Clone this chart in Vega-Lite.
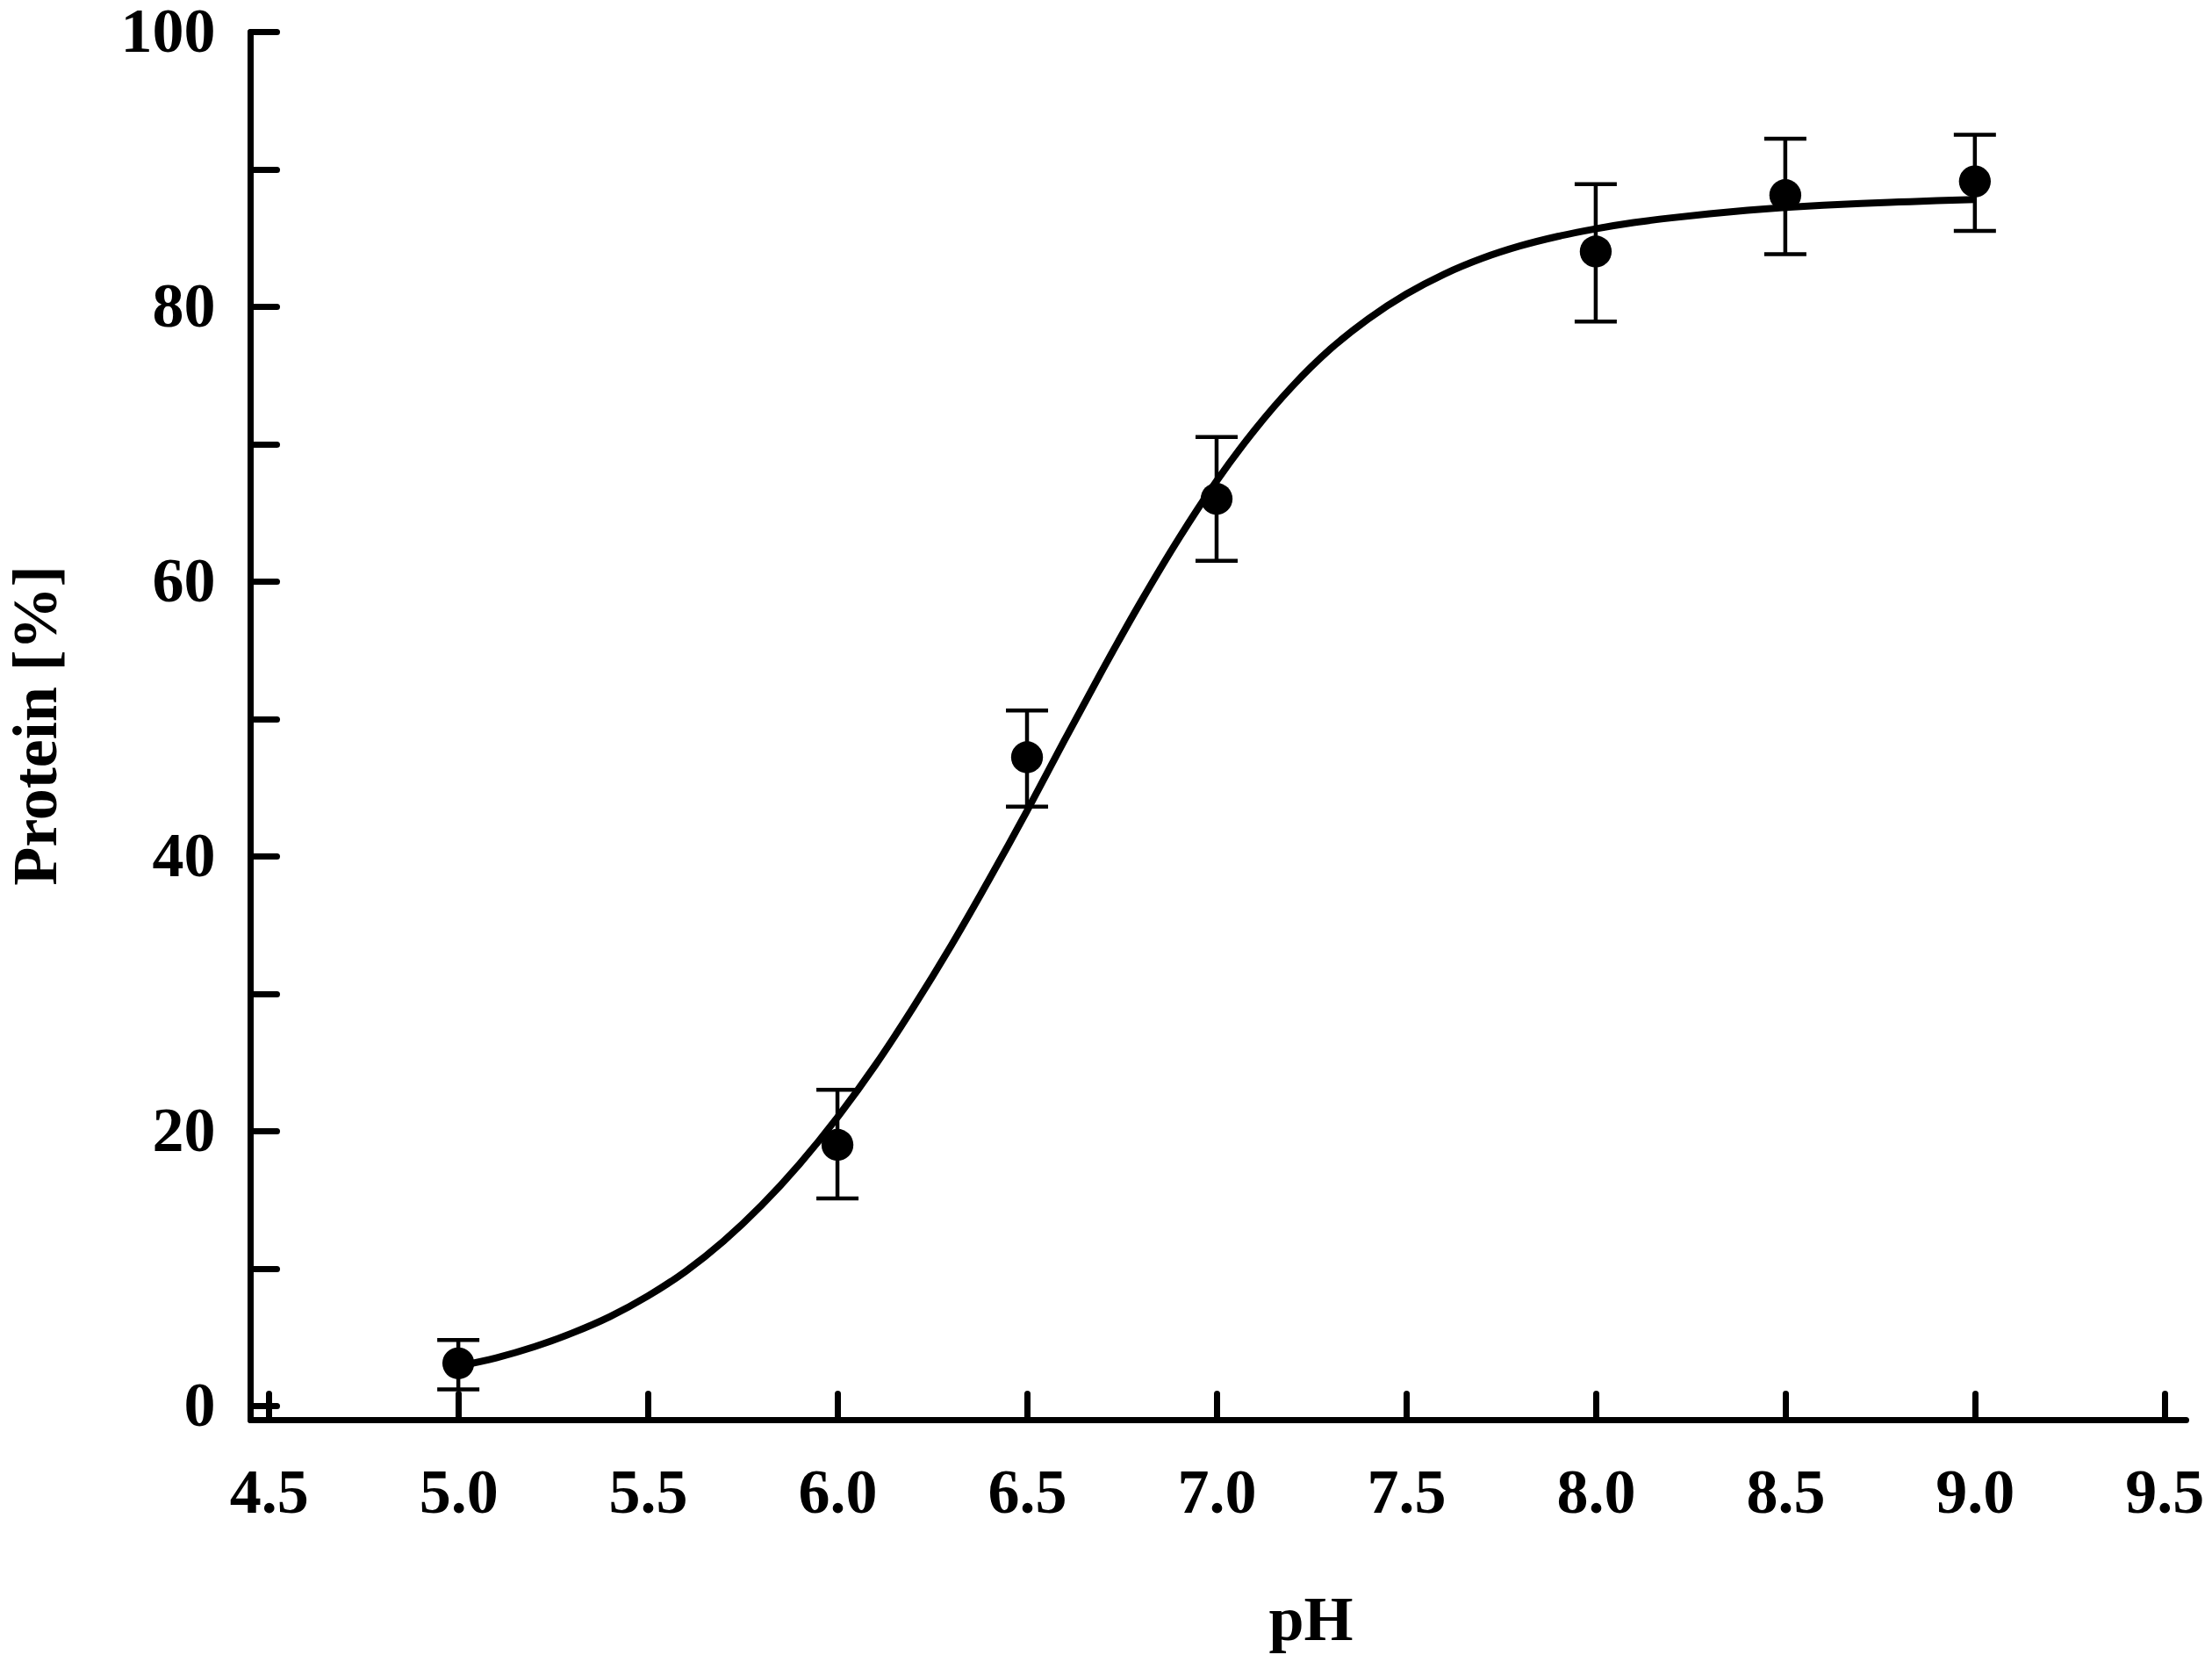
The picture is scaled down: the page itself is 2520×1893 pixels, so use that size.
{
  "$schema": "https://vega.github.io/schema/vega-lite/v6.json",
  "autosize": {"type": "none"},
  "padding": {"left": 285, "top": 36, "right": 30, "bottom": 276},
  "width": 2205,
  "height": 1581,
  "background": "white",
  "datasets": {
    "points": [
      {"pH": 5.0, "protein": 3.1, "lo": 1.2, "hi": 4.8},
      {"pH": 6.0, "protein": 19.0, "lo": 15.1, "hi": 23.0},
      {"pH": 6.5, "protein": 47.2, "lo": 43.6, "hi": 50.6},
      {"pH": 7.0, "protein": 66.0, "lo": 61.5, "hi": 70.5},
      {"pH": 8.0, "protein": 84.0, "lo": 78.9, "hi": 88.9},
      {"pH": 8.5, "protein": 88.1, "lo": 83.8, "hi": 92.2},
      {"pH": 9.0, "protein": 89.1, "lo": 85.5, "hi": 92.5}
    ],
    "fit": [
      {"pH": 5.0, "protein": 2.9}, {"pH": 5.1, "protein": 3.5}, {"pH": 5.2, "protein": 4.3},
      {"pH": 5.3, "protein": 5.3}, {"pH": 5.4, "protein": 6.5}, {"pH": 5.5, "protein": 8.0},
      {"pH": 5.6, "protein": 9.8}, {"pH": 5.7, "protein": 12.0}, {"pH": 5.8, "protein": 14.6},
      {"pH": 5.9, "protein": 17.6}, {"pH": 6.0, "protein": 21.0}, {"pH": 6.1, "protein": 24.8},
      {"pH": 6.2, "protein": 29.0}, {"pH": 6.3, "protein": 33.5}, {"pH": 6.4, "protein": 38.3},
      {"pH": 6.5, "protein": 43.3}, {"pH": 6.6, "protein": 48.5}, {"pH": 6.7, "protein": 53.6},
      {"pH": 6.8, "protein": 58.5}, {"pH": 6.9, "protein": 63.1}, {"pH": 7.0, "protein": 67.3},
      {"pH": 7.1, "protein": 71.0}, {"pH": 7.2, "protein": 74.2}, {"pH": 7.3, "protein": 76.9},
      {"pH": 7.4, "protein": 79.1}, {"pH": 7.5, "protein": 80.9}, {"pH": 7.6, "protein": 82.35},
      {"pH": 7.7, "protein": 83.5}, {"pH": 7.8, "protein": 84.4}, {"pH": 7.9, "protein": 85.1},
      {"pH": 8.0, "protein": 85.65}, {"pH": 8.1, "protein": 86.1}, {"pH": 8.2, "protein": 86.45},
      {"pH": 8.3, "protein": 86.75}, {"pH": 8.4, "protein": 87.0}, {"pH": 8.5, "protein": 87.2},
      {"pH": 8.6, "protein": 87.37}, {"pH": 8.7, "protein": 87.5}, {"pH": 8.8, "protein": 87.6},
      {"pH": 8.9, "protein": 87.7}, {"pH": 9.0, "protein": 87.78}
    ]
  },
  "encoding": {
    "x": {
      "field": "pH",
      "type": "quantitative",
      "scale": {"domain": [4.451, 9.556], "nice": false, "zero": false},
      "axis": {
        "title": "pH",
        "values": [4.5, 5.0, 5.5, 6.0, 6.5, 7.0, 7.5, 8.0, 8.5, 9.0, 9.5],
        "format": ".1f",
        "tickSize": -30,
        "labelPadding": 78,
        "titleX": 1208,
        "titleY": 250,
        "titleBaseline": "alphabetic",
        "titleAlign": "center"
      }
    },
    "y": {
      "field": "protein",
      "type": "quantitative",
      "scale": {"domain": [-1, 100], "nice": false, "zero": false},
      "axis": {
        "title": "Protein [%]",
        "values": [0, 10, 20, 30, 40, 50, 60, 70, 80, 90, 100],
        "labelExpr": "datum.value % 20 === 0 ? datum.label : ''",
        "tickSize": -30,
        "labelPadding": 70,
        "titleX": -222,
        "titleY": 790,
        "titleAngle": 270,
        "titleBaseline": "alphabetic",
        "titleAlign": "center"
      }
    }
  },
  "layer": [
    {
      "data": {"name": "points"},
      "mark": {"type": "rule", "color": "black", "strokeWidth": 4.5},
      "encoding": {
        "y": {"field": "lo", "type": "quantitative"},
        "y2": {"field": "hi"}
      }
    },
    {
      "data": {"name": "points"},
      "mark": {"type": "tick", "color": "black", "orient": "horizontal", "size": 48, "thickness": 4.5, "opacity": 1},
      "encoding": {"y": {"field": "lo", "type": "quantitative"}}
    },
    {
      "data": {"name": "points"},
      "mark": {"type": "tick", "color": "black", "orient": "horizontal", "size": 48, "thickness": 4.5, "opacity": 1},
      "encoding": {"y": {"field": "hi", "type": "quantitative"}}
    },
    {
      "data": {"name": "fit"},
      "mark": {"type": "line", "color": "black", "strokeWidth": 8, "interpolate": "monotone"},
      "encoding": {}
    },
    {
      "data": {"name": "points"},
      "mark": {"type": "circle", "color": "black", "size": 1320, "opacity": 1},
      "encoding": {}
    }
  ],
  "config": {
    "view": {"stroke": null},
    "font": "Liberation Serif",
    "axis": {
      "grid": false,
      "domainColor": "black",
      "domainWidth": 7,
      "domainCap": "round",
      "tickColor": "black",
      "tickWidth": 7,
      "tickCap": "round",
      "labelFont": "Liberation Serif",
      "labelFontSize": 72,
      "labelFontWeight": "bold",
      "labelColor": "black",
      "labelFlush": false,
      "labelOverlap": false,
      "titleFont": "Liberation Serif",
      "titleFontSize": 72,
      "titleFontWeight": "bold",
      "titleColor": "black"
    }
  }
}
